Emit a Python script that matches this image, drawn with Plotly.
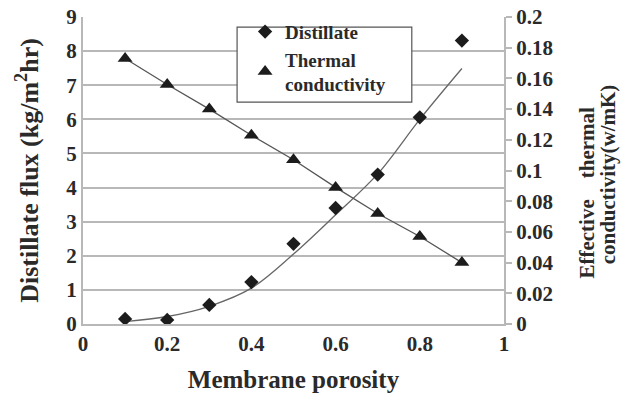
import plotly.graph_objects as go

# Membrane porosity (x) and the two measured series
porosity = [0.1, 0.2, 0.3, 0.4, 0.5, 0.6, 0.7, 0.8, 0.9]
distillate_flux = [0.15, 0.12, 0.56, 1.23, 2.35, 3.40, 4.38, 6.06, 8.31]
thermal_cond = [0.173, 0.156, 0.140, 0.123, 0.107, 0.089, 0.072, 0.057, 0.040]

# Predicted flux curve (model), drawn as a smooth line
model_flux = [0.07, 0.22, 0.52, 1.05, 2.05, 3.20, 4.40, 6.00, 7.49]

x_ticks = [0, 0.2, 0.4, 0.6, 0.8, 1]
y_left_ticks = list(range(0, 10))
y_right_ticks = [0, 0.02, 0.04, 0.06, 0.08, 0.1, 0.12, 0.14, 0.16, 0.18, 0.2]

FONT = "Liberation Serif"
GRID = "#b8b8b8"
INK = "#1c1c1c"
TEXT = "#2a2a2a"


def bold(v):
    return f"<b>{v:g}</b>"


fig = go.Figure()

fig.add_trace(go.Scatter(
    x=porosity, y=model_flux, mode="lines",
    line=dict(color="#666666", width=1.3, shape="spline", smoothing=1.0),
    showlegend=False, hoverinfo="skip"))

fig.add_trace(go.Scatter(
    x=porosity, y=thermal_cond, mode="lines", yaxis="y2",
    line=dict(color="#555555", width=1.3), showlegend=False, hoverinfo="skip"))

fig.add_trace(go.Scatter(
    x=porosity, y=distillate_flux, mode="markers", name="<b>Distillate</b>",
    marker=dict(symbol="diamond", size=11, color=INK)))

fig.add_trace(go.Scatter(
    x=porosity, y=thermal_cond, mode="markers", yaxis="y2",
    name="<b>Thermal<br>conductivity</b>",
    marker=dict(symbol="triangle-up", size=13, color=INK)))

tick_font = dict(family=FONT, size=21, color=TEXT)

# Right-hand axis title, one annotation per line
right_title_lines = ["Effective&nbsp;&nbsp;&nbsp;&nbsp;thermal", "conductivity(w/mK)"]
right_title_x = [1.197, 1.249]
right_title_y = [0.428, 0.487]

fig.update_layout(
    width=630, height=399,
    margin=dict(l=83, r=126, t=17, b=75, autoexpand=False),
    paper_bgcolor="white", plot_bgcolor="white",
    font=dict(family=FONT, size=16, color=TEXT),
    xaxis=dict(
        range=[0, 1], tickvals=x_ticks, ticktext=[bold(v) for v in x_ticks],
        showgrid=False, zeroline=False, showline=True, linecolor=GRID, linewidth=2,
        ticks="", tickfont=tick_font,
        title=dict(text="<b>Membrane porosity</b>",
                   font=dict(family=FONT, size=25, color=TEXT), standoff=15)),
    yaxis=dict(
        range=[0, 9], tickvals=y_left_ticks, ticktext=[bold(v) for v in y_left_ticks],
        showgrid=True, gridcolor=GRID, gridwidth=2,
        zeroline=False, showline=True, linecolor=GRID, linewidth=2, ticks="",
        tickfont=tick_font,
        title=dict(text="<b>Distillate flux (kg/m<sup>2</sup>hr)</b>",
                   font=dict(family=FONT, size=26, color=TEXT), standoff=20)),
    yaxis2=dict(
        range=[0, 0.2], tickvals=y_right_ticks,
        ticktext=[bold(v) for v in y_right_ticks],
        overlaying="y", side="right", showgrid=False, zeroline=False,
        showline=True, linecolor=GRID, linewidth=2,
        ticks="outside", ticklen=6, tickcolor=GRID, tickwidth=1.5,
        tickfont=tick_font),
    legend=dict(
        x=0.385, y=1.014, xanchor="left", yanchor="top",
        bgcolor="rgba(0,0,0,0)", borderwidth=0,
        font=dict(family=FONT, size=19, color=TEXT),
        itemwidth=30, tracegroupgap=0),
    shapes=[dict(
        type="rect", xref="paper", yref="paper",
        x0=0.366, x1=0.781, y0=0.723, y1=0.967,
        line=dict(color="#555555", width=1.2), fillcolor="white", layer="above")],
    annotations=[
        dict(text=f"<b>{t}</b>", xref="paper", yref="paper", x=x, y=y,
             xanchor="center", yanchor="middle", textangle=-90, showarrow=False,
             font=dict(family=FONT, size=21, color=TEXT))
        for t, x, y in zip(right_title_lines, right_title_x, right_title_y)
    ],
    showlegend=True,
)

fig.write_html("out.html")
